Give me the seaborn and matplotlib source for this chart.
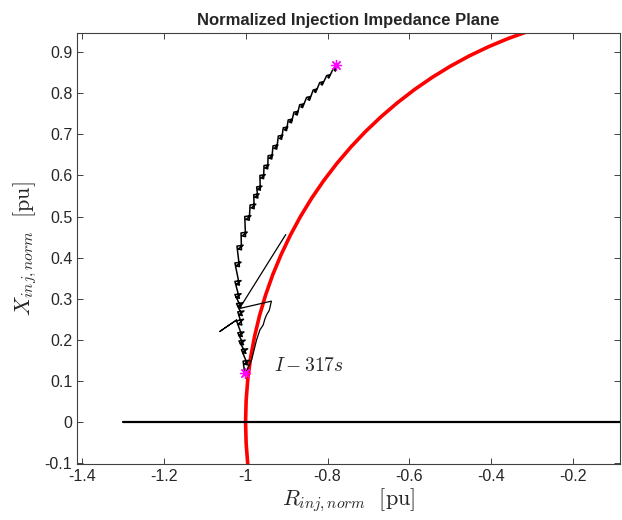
import numpy as np
import pandas as pd
import matplotlib
matplotlib.use("Agg")
import matplotlib.pyplot as plt
import seaborn as sns

# ===============================
# DATA
# ===============================

# stability boundary (unit circle arc), points along the red curve
circle_x = [-0.9945, -0.9986, -1.0, -0.9986, -0.9945, -0.9877, -0.9781, -0.9659,
            -0.9511, -0.9336, -0.9135, -0.8910, -0.8660, -0.8387, -0.8090, -0.7771,
            -0.7431, -0.7071, -0.6691, -0.6293, -0.5878, -0.5446, -0.5000, -0.4540,
            -0.4067, -0.3584, -0.3090]
circle_y = [-0.1045, -0.0523, 0.0, 0.0523, 0.1045, 0.1564, 0.2079, 0.2588,
            0.3090, 0.3584, 0.4067, 0.4540, 0.5000, 0.5446, 0.5878, 0.6293,
            0.6691, 0.7071, 0.7431, 0.7771, 0.8090, 0.8387, 0.8660, 0.8910,
            0.9135, 0.9336, 0.9511]

# real axis reference line
axis_x = [-1.3, 0.0]
axis_y = [0.0, 0.0]

# main impedance trajectory (jagged), bottom star -> top star
traj_x = [-1.002,
          -1.006, -0.991, -1.003, -0.995,
          -1.010, -0.995, -1.007, -0.999,
          -1.016, -1.001, -1.013, -1.005,
          -1.019, -1.004, -1.016, -1.008,
          -1.022, -1.005, -1.018, -1.009,
          -1.019, -1.004, -1.016, -1.008,
          -1.022, -1.007, -1.019, -1.011,
          -1.026, -1.011, -1.023, -1.015,
          -1.026, -1.011, -1.023, -1.015,
          -1.026, -1.011, -1.023, -1.015,
          -1.021, -1.006, -1.018, -1.010,
          -1.011, -0.996, -1.008, -1.000,
          -1.002, -0.987, -0.999, -0.991,
          -0.989, -0.975, -0.986, -0.979,
          -0.980, -0.967, -0.977, -0.970,
          -0.973, -0.960, -0.970, -0.964,
          -0.965, -0.952, -0.962, -0.956,
          -0.955, -0.943, -0.952, -0.946,
          -0.945, -0.933, -0.942, -0.936,
          -0.933, -0.921, -0.930, -0.924,
          -0.920, -0.909, -0.917, -0.912,
          -0.908, -0.897, -0.905, -0.900,
          -0.896, -0.886, -0.893, -0.888,
          -0.882, -0.872, -0.879, -0.874,
          -0.868, -0.859, -0.865, -0.861,
          -0.851, -0.842, -0.848, -0.844,
          -0.835, -0.827, -0.832, -0.829,
          -0.819, -0.811, -0.816, -0.813,
          -0.802, -0.795, -0.799, -0.797,
          -0.786, -0.780, -0.783, -0.781,
          -0.780]
traj_y = [0.118,
          0.148, 0.150, 0.141, 0.139,
          0.176, 0.178, 0.169, 0.167,
          0.197, 0.199, 0.190, 0.188,
          0.217, 0.219, 0.210, 0.208,
          0.246, 0.250, 0.238, 0.236,
          0.268, 0.270, 0.261, 0.259,
          0.288, 0.290, 0.281, 0.279,
          0.310, 0.312, 0.303, 0.301,
          0.342, 0.344, 0.335, 0.333,
          0.387, 0.389, 0.380, 0.378,
          0.428, 0.430, 0.421, 0.419,
          0.460, 0.462, 0.453, 0.451,
          0.500, 0.502, 0.493, 0.491,
          0.528, 0.530, 0.521, 0.519,
          0.553, 0.555, 0.547, 0.545,
          0.572, 0.574, 0.566, 0.564,
          0.600, 0.602, 0.594, 0.592,
          0.624, 0.626, 0.618, 0.616,
          0.648, 0.650, 0.642, 0.640,
          0.672, 0.674, 0.666, 0.664,
          0.696, 0.698, 0.690, 0.688,
          0.716, 0.718, 0.711, 0.709,
          0.735, 0.737, 0.730, 0.728,
          0.754, 0.756, 0.749, 0.747,
          0.772, 0.774, 0.767, 0.765,
          0.790, 0.792, 0.785, 0.783,
          0.808, 0.810, 0.804, 0.802,
          0.826, 0.828, 0.822, 0.820,
          0.843, 0.845, 0.839, 0.837,
          0.860, 0.862, 0.856, 0.854,
          0.868]

# excursion near the start (loop + straight jump)
loop_x = [-0.998, -0.994, -0.990, -0.985, -0.981, -0.977, -0.973, -0.969, -0.965,
          -0.957, -0.953, -0.949, -0.942, -0.937, -1.015, -0.902]
loop_y = [0.124, 0.132, 0.140, 0.152, 0.168, 0.184, 0.200, 0.212, 0.224,
          0.236, 0.250, 0.260, 0.272, 0.294, 0.276, 0.456]

spike_x = [-1.022, -1.063, -1.043, -1.031, -1.022]
spike_y = [0.248, 0.220, 0.234, 0.242, 0.248]

# start / end markers
star_x = [-1.002, -0.780]
star_y = [0.118, 0.868]

label_text = r"$I-317s$"
label_pos = (-0.93, 0.135)

# ===============================
# PLOT
# ===============================
sns.set_theme(style="white")
plt.rcParams["font.family"] = ["Liberation Sans", "DejaVu Sans"]
plt.rcParams["mathtext.fontset"] = "cm"
plt.rcParams["axes.unicode_minus"] = False

fig = plt.figure(figsize=(6.22, 5.2), dpi=100)
ax = fig.add_axes([0.124, 0.108, 0.873, 0.828])

def draw(xs, ys, **kw):
    df = pd.DataFrame({"x": xs, "y": ys})
    sns.lineplot(data=df, x="x", y="y", sort=False, estimator=None, ax=ax, **kw)

draw(circle_x, circle_y, color="red", linewidth=2.6)
draw(axis_x, axis_y, color="black", linewidth=1.6)
draw(traj_x, traj_y, color="black", linewidth=1.1)
draw(loop_x, loop_y, color="black", linewidth=0.9)
draw(spike_x, spike_y, color="black", linewidth=0.9)
ax.plot(star_x, star_y, linestyle="none", marker=(8, 2, 0), markersize=8,
        markeredgewidth=0.9, color="magenta")

ax.text(label_pos[0], label_pos[1], label_text, fontsize=14, va="center", ha="left")

ax.set_xlim(-1.411, -0.086)
ax.set_ylim(-0.102, 0.946)
ax.set_xticks(np.round(np.arange(-1.4, -0.19, 0.2), 1))
ax.set_yticks(np.round(np.arange(-0.1, 0.91, 0.1), 1))
ax.set_xticklabels(["-1.4", "-1.2", "-1", "-0.8", "-0.6", "-0.4", "-0.2"])
ax.set_yticklabels(["-0.1", "0", "0.1", "0.2", "0.3", "0.4", "0.5", "0.6", "0.7", "0.8", "0.9"])

ax.tick_params(direction="in", length=4, width=0.7, colors="#404040",
               labelcolor="#262626", labelsize=11.5, top=True, right=True,
               bottom=True, left=True)
for s in ax.spines.values():
    s.set_visible(True)
    s.set_color("#404040")
    s.set_linewidth(0.8)

ax.set_xlabel(r"$R_{inj,norm}\ \ [\mathrm{pu}]$", fontsize=16, color="#262626", labelpad=2)
ax.set_ylabel(r"$X_{inj,norm}\ \ [\mathrm{pu}]$", fontsize=16, color="#262626", labelpad=4)
ax.set_title("Normalized Injection Impedance Plane", fontsize=12, fontweight="bold", pad=6)

fig.savefig("out.png", dpi=100)
plt.close(fig)
